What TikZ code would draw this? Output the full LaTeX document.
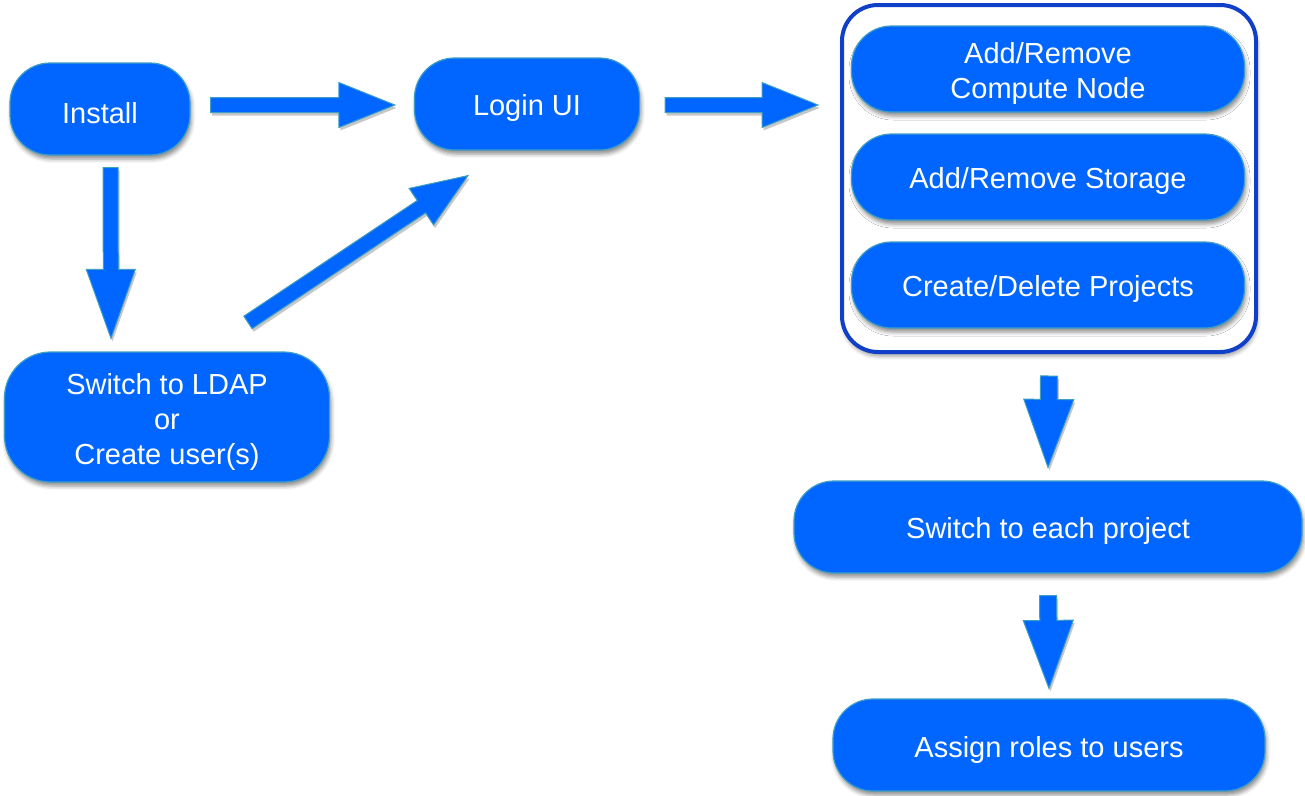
\documentclass[tikz,border=0pt]{standalone}
\usepackage{fontspec}
\setmainfont{Liberation Sans}
\usetikzlibrary{calc,shadows.blur}
\definecolor{boxblue}{HTML}{0066FF}
\definecolor{edgeteal}{HTML}{3E9EC4}
\definecolor{frameblue}{HTML}{1040C8}
\newcommand{\topstrut}{\rule{0pt}{30pt}}
\tikzset{
  stepbox/.style={draw=edgeteal, line width=1.2pt, fill=boxblue, rounded corners=40pt,
    text=white, align=center, font=\fontsize{29}{35}\selectfont, inner sep=0pt,
    blur shadow={shadow xshift=1.5pt, shadow yshift=-4pt, shadow blur radius=4pt, shadow opacity=45}},
  framebox/.style={draw=frameblue, line width=4pt, fill=white, rounded corners=36pt, inner sep=0pt,
    blur shadow={shadow xshift=1pt, shadow yshift=-4pt, shadow blur radius=4pt, shadow opacity=40}},
  blockarrowstyle/.style={draw=edgeteal, line width=1pt, fill=boxblue, line join=miter,
    preaction={fill=black, opacity=0.22, transform canvas={shift={(1.5pt,-3pt)}}}}
}
% #1 tail, #2 tip, #3 half shaft width, #4 half head width, #5 head length
\newcommand{\blockarrow}[5]{%
  \path[blockarrowstyle] let \p1=#1, \p2=#2,
      \n1={atan2(\y2-\y1,\x2-\x1)}, \n2={veclen(\x2-\x1,\y2-\y1)} in
    [shift={(\p1)}, rotate=\n1]
    (0pt,-#3pt) -- ({\n2-#5pt},-#3pt) -- ({\n2-#5pt},-#4pt) -- (\n2,0pt)
    -- ({\n2-#5pt},#4pt) -- ({\n2-#5pt},#3pt) -- (0pt,#3pt) -- cycle;}
\begin{document}
\begin{tikzpicture}[x=1pt,y=1pt]
\useasboundingbox (0,0) rectangle (1305,-795);

% left column
\node[stepbox, minimum width=180pt, minimum height=92pt] (install) at (100,-109) {\topstrut Install};
\node[stepbox, minimum width=225pt, minimum height=92pt] (login) at (527,-104) {\topstrut Login UI};
\node[stepbox, minimum width=325pt, minimum height=130pt, rounded corners=46pt] (ldap) at (167,-417) {\topstrut Switch to LDAP\\or\\Create user(s)};

% right group
\node[framebox, minimum width=414pt, minimum height=347pt] (outer) at (1049,-178.5) {};
\node[stepbox, minimum width=393pt, minimum height=86pt] (compute) at (1048,-69) {\topstrut Add/Remove\\Compute Node};
\node[stepbox, minimum width=393pt, minimum height=86pt] (storage) at (1048,-177) {\topstrut Add/Remove Storage};
\node[stepbox, minimum width=393pt, minimum height=86pt] (projects) at (1048,-285) {\topstrut Create/Delete Projects};

\node[stepbox, minimum width=508pt, minimum height=92pt] (each) at (1048,-527) {\topstrut Switch to each project};
\node[stepbox, minimum width=432pt, minimum height=92pt] (assign) at (1049,-745) {\topstrut Assign roles to users};

% connectors
\coordinate (a1s) at ($(install.east)+(20,4)$);
\coordinate (a1e) at ($(login.west)+(-19,-1)$);
\coordinate (a2s) at ($(login.east)+(25,-1)$);
\coordinate (a2e) at ($(outer.west|-login.east)+(-22,-1)$);
\coordinate (a3s) at ($(install.south)+(10.5,-12)$);
\coordinate (a3e) at ($(ldap.north)+(-56,13)$);
\coordinate (a4s) at ($(ldap.north)+(81,29)$);
\coordinate (a4e) at ($(login.south)+(-59,-25)$);
\coordinate (a5s) at ($(outer.south)+(0,-22)$);
\coordinate (a5e) at ($(each.north)+(0,13)$);
\coordinate (a6s) at ($(each.south)+(0,-22)$);
\coordinate (a6e) at ($(assign.north)+(0,10)$);

\blockarrow{(a1s)}{(a1e)}{7.5}{22.5}{56}
\blockarrow{(a2s)}{(a2e)}{7.5}{22.5}{56}
\blockarrow{(a3s)}{(a3e)}{7.5}{24.5}{69}
\blockarrow{(a4s)}{(a4e)}{7.5}{22}{56}
\blockarrow{(a5s)}{(a5e)}{8.5}{25}{68}
\blockarrow{(a6s)}{(a6e)}{8.5}{25}{68}
\end{tikzpicture}
\end{document}
